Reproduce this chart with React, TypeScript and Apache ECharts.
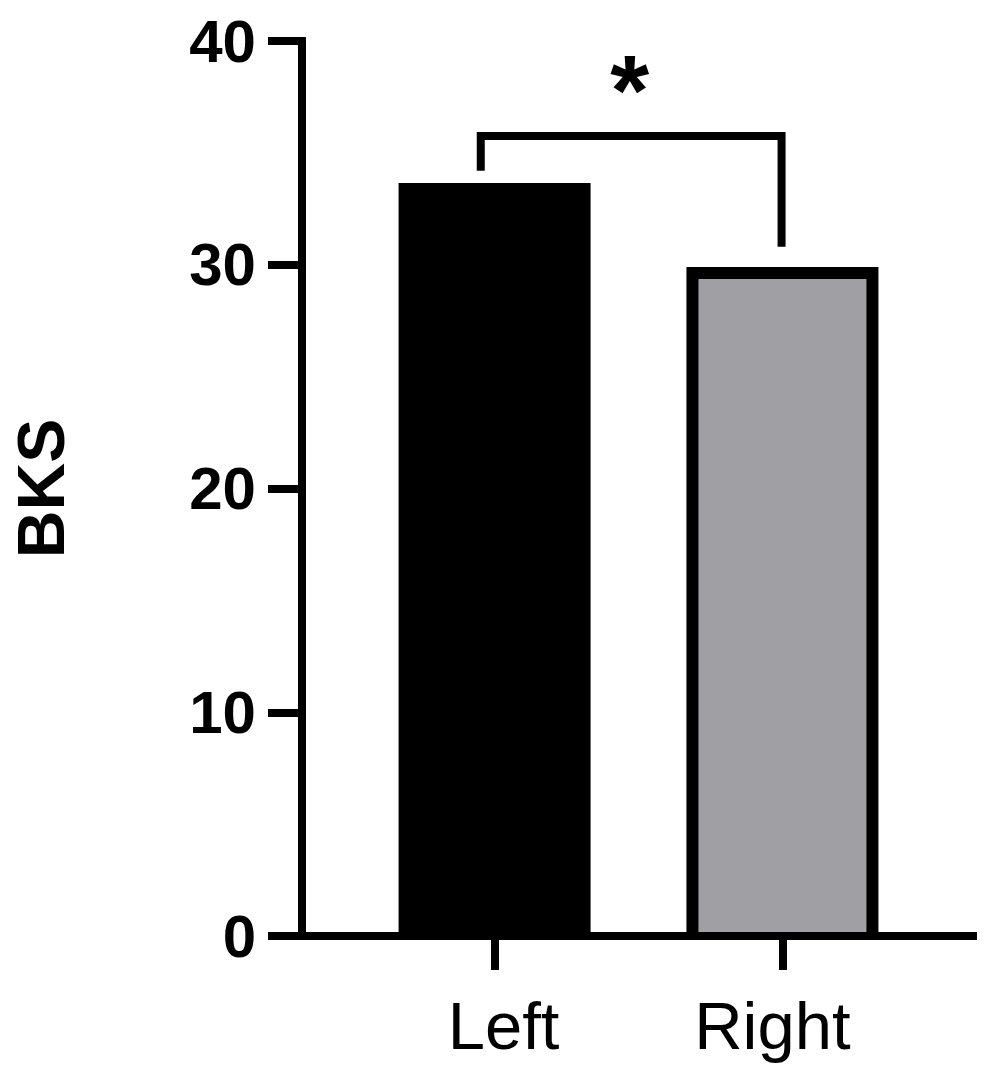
import React, { useEffect, useRef } from "react";
import * as echarts from "echarts";

const categories = ["Left", "Right"];
const categoryPositions = [1, 2];
const values = [33.65, 29.9];
const barColors = ["#000000", "#a0a0a4"];
const yTicks = [0, 10, 20, 30, 40];
const bracketX = [0.952, 0.952, 1.997, 1.997];
const bracketY = [34.2, 35.75, 35.75, 30.8];
const starPoint = [1.469, 37.8];
const starText = "*";
const yName = "BKS";

export default function App() {
  const ref = useRef<HTMLDivElement>(null);
  useEffect(() => {
    document.body.style.margin = "0";
    const chart = echarts.init(ref.current!, undefined, { renderer: "svg" });
    const font = "Liberation Sans, Arial, sans-serif";
    const gridTop = 41;
    const gridBottom = 139;
    const border = 12;
    const pxPerUnit = (1075 - gridTop - gridBottom) / (yTicks[yTicks.length - 1] - yTicks[0]);
    const borderUnits = border / pxPerUnit;
    const xMin = 0.331;
    const xMax = 2.662;
    chart.setOption({
      animation: false,
      backgroundColor: "#ffffff",
      grid: { left: 297, right: 25, top: gridTop, bottom: gridBottom, containLabel: false },
      xAxis: [
        {
          type: "value",
          min: xMin,
          max: xMax,
          z: 5,
          splitLine: { show: false },
          axisLine: { show: true, lineStyle: { color: "#000", width: 8, cap: "square" } },
          axisTick: {
            show: true,
            customValues: categoryPositions,
            length: 34,
            lineStyle: { color: "#000", width: 8 },
          },
          axisLabel: {
            customValues: categoryPositions,
            formatter: (v: number) => {
              const i = categoryPositions.indexOf(v);
              return i === 0 ? "{l|" + categories[0] + "}" : i === 1 ? "{r|" + categories[1] + "}" : "";
            },
            color: "#000",
            fontFamily: font,
            fontSize: 67,
            margin: 56,
            rich: {
              l: { fontFamily: font, fontSize: 67, color: "#000", padding: [0, 0, 0, 18] },
              r: { fontFamily: font, fontSize: 67, color: "#000", padding: [0, 20, 0, 0] },
            },
          },
        },
        {
          type: "value",
          min: xMin,
          max: xMax,
          show: false,
        },
      ],
      yAxis: {
        type: "value",
        min: yTicks[0],
        max: yTicks[yTicks.length - 1],
        interval: 10,
        z: 5,
        name: yName,
        nameLocation: "middle",
        nameGap: 228,
        nameRotate: 90,
        nameTextStyle: { color: "#000", fontFamily: font, fontSize: 66, fontWeight: "bold" },
        splitLine: { show: false },
        axisLine: { show: true, lineStyle: { color: "#000", width: 8, cap: "square" } },
        axisTick: { show: true, length: 34, lineStyle: { color: "#000", width: 8 } },
        axisLabel: {
          color: "#000",
          fontFamily: font,
          fontSize: 60,
          fontWeight: "bold",
          margin: 46,
        },
      },
      series: [
        {
          type: "bar",
          xAxisIndex: 0,
          barWidth: 192,
          data: values.map((v, i) => ({
            value: [categoryPositions[i], v],
            itemStyle: { color: "#000" },
          })),
          z: 1,
        },
        {
          type: "bar",
          xAxisIndex: 1,
          barWidth: 192 - 2 * border,
          data: values.map((v, i) => ({
            value: [categoryPositions[i], v - borderUnits],
            itemStyle: { color: barColors[i] },
          })),
          z: 2,
        },
        {
          type: "line",
          data: bracketX.map((x, i) => [x, bracketY[i]]),
          symbol: "none",
          lineStyle: { color: "#000", width: 8, cap: "butt", join: "miter" },
          z: 3,
        },
      ],
    });
    const p = chart.convertToPixel({ gridIndex: 0 }, starPoint) as number[];
    chart.setOption({
      graphic: [
        {
          type: "text",
          x: p[0],
          y: p[1],
          style: {
            text: starText,
            fill: "#000",
            font: "bold 100px " + font,
            textAlign: "center",
            textVerticalAlign: "middle",
          },
        },
      ],
    });
    return () => chart.dispose();
  }, []);
  return (
    <div
      ref={ref}
      style={{ position: "fixed", left: 0, top: 0, width: 998, height: 1075 }}
    />
  );
}
